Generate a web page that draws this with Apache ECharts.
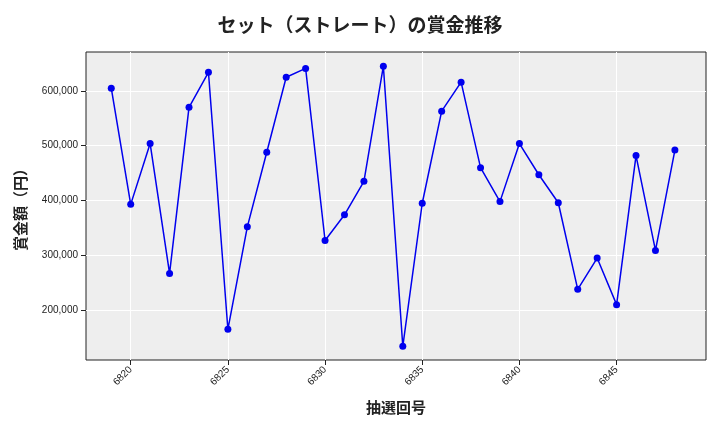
<!DOCTYPE html>
<html><head><meta charset="utf-8">
<script src="https://cdn.jsdelivr.net/npm/echarts@6/dist/echarts.min.js"></script>
<style>html,body{margin:0;background:#fff}#c{width:720px;height:432px}</style>
</head><body><div id="c"></div>
<script>
const draws = [6819,6820,6821,6822,6823,6824,6825,6826,6827,6828,6829,6830,6831,6832,6833,6834,6835,6836,6837,6838,6839,6840,6841,6842,6843,6844,6845,6846,6847,6848];
const prizes = [605000,393000,504000,267000,570000,634000,165000,352000,488000,625000,641000,327000,374000,435000,645000,134000,395000,563000,616000,460000,398000,504000,447000,396000,238000,295000,210000,482000,309000,492000];
const xTicks = [6820,6825,6830,6835,6840,6845];
const yTicks = [200000,300000,400000,500000,600000];

const chart = echarts.init(document.getElementById('c'));
const font = '"Noto Sans CJK JP", sans-serif';
chart.setOption({
    title: {text: 'セット（ストレート）の賞金推移', left: 'center', top: 10,
        textStyle: {fontFamily: font, fontSize: 19, fontWeight: 'bold', color: '#222'}},
    grid: {left: 86, right: 14, top: 52, bottom: 72, show: true, backgroundColor: '#eeeeee', borderWidth: 1, borderColor: '#222'},
    xAxis: {
        type: 'value', min: 6817.7, max: 6849.6,
        name: '抽選回号', nameLocation: 'middle', nameGap: 40,
        nameTextStyle: {fontFamily: font, fontSize: 15, fontWeight: 'bold', color: '#222'},
        axisLine: {show: false},
        axisTick: {show: true, customValues: xTicks, lineStyle: {color: '#222'}},
        axisLabel: {customValues: xTicks, rotate: 45, fontSize: 10, color: '#222', formatter: v => String(v)},
        splitLine: {show: true, lineStyle: {color: '#fff'}}
    },
    yAxis: {
        type: 'value', min: 109000, max: 671000,
        name: '賞金額（円）', nameLocation: 'middle', nameGap: 58,
        nameTextStyle: {fontFamily: font, fontSize: 15, fontWeight: 'bold', color: '#222'},
        axisLine: {show: false},
        axisTick: {show: true, customValues: yTicks, lineStyle: {color: '#222'}},
        axisLabel: {customValues: yTicks, fontSize: 10, color: '#222',
            formatter: v => v.toLocaleString('en-US')},
        splitLine: {show: true, lineStyle: {color: '#fff'}}
    },
    series: [{
        type: 'line', data: draws.map((d, i) => [d, prizes[i]]),
        symbol: 'circle', symbolSize: 7,
        lineStyle: {color: '#0000ee', width: 1.5},
        itemStyle: {color: '#0000ee'}
    }]
});
</script></body></html>
